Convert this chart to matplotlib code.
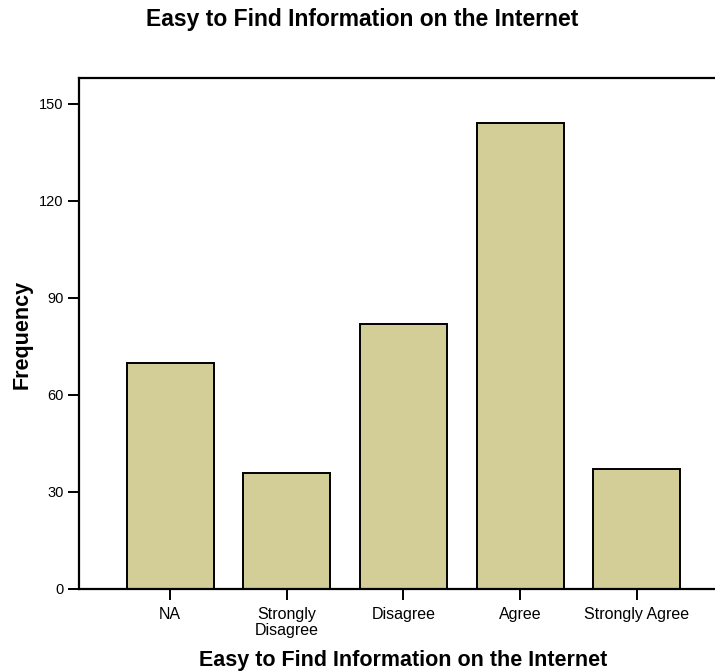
import matplotlib

matplotlib.use("Agg")

import matplotlib.pyplot as plt

categories = ["NA", "Strongly\nDisagree", "Disagree", "Agree", "Strongly Agree"]
frequencies = [70, 36, 82, 144, 37]
y_ticks = [0, 30, 60, 90, 120, 150]
title = "Easy to Find Information on the Internet"

BAR_COLOR = "#d3ce98"

plt.rcParams["font.family"] = ["Liberation Sans", "DejaVu Sans"]

fig = plt.figure(figsize=(7.15, 6.72), dpi=100)
# the plot frame runs past the right edge of the image, as in the original
ax = fig.add_axes([79 / 715, 1 - 589 / 672, (728 - 79) / 715, (589 - 78) / 672])

x = range(len(categories))
ax.bar(x, frequencies, width=0.745, color=BAR_COLOR, edgecolor="black", linewidth=1.4, zorder=2)

ax.set_xlim(-0.78, len(categories) - 1 + 0.78)
ax.set_ylim(0, 158)
ax.set_yticks(y_ticks)
ax.set_xticks(list(x))
ax.set_xticklabels(categories, fontsize=11.5, linespacing=1.1)
ax.tick_params(axis="y", labelsize=10.5, length=8, width=1.4, pad=3)
ax.tick_params(axis="x", length=8, width=1.4, pad=5)

for spine in ax.spines.values():
    spine.set_linewidth(1.6)

fig.text(28 / 715, 1 - 334 / 672, "Frequency", rotation=90, rotation_mode="anchor",
         ha="center", va="baseline", fontsize=15.5, weight="bold")
fig.text(403 / 715, 1 - 666 / 672, title, ha="center", va="baseline", fontsize=15.5, weight="bold")
fig.text(362 / 715, 1 - 26 / 672, title, ha="center", va="baseline", fontsize=16.5, weight="bold")

fig.savefig("out.png", dpi=100)
